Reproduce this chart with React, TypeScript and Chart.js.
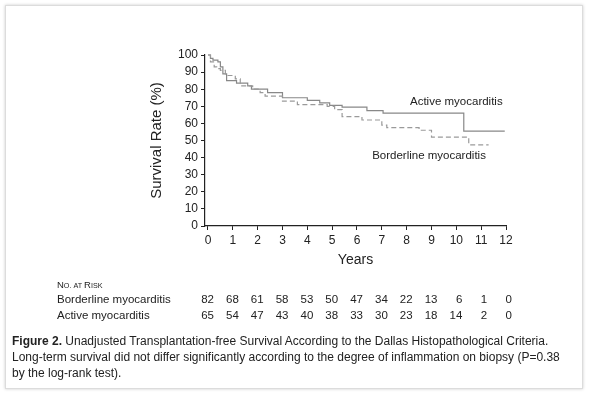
import React, { useEffect, useRef } from "react";
import { Chart, registerables } from "chart.js";

Chart.register(...registerables);

const FONT = "'Liberation Sans', Arial, Helvetica, sans-serif";

// Kaplan-Meier steps: time (years) at which survival drops to the value
const activeTimes = [0, 0.1, 0.2, 0.4, 0.5, 0.6, 0.75, 1.15, 1.6, 1.75, 2.4, 3.0, 4.0, 4.5, 4.9, 5.4, 6.4, 7.05, 10.3, 11.95];
const activeSurv = [100, 98, 97, 96, 93, 89, 85, 83.5, 82, 80, 78, 75, 73.5, 72, 70.5, 69.5, 67.5, 66, 55.5, 55.5];

const borderTimes = [0, 0.1, 0.25, 0.35, 0.5, 0.7, 1.1, 1.3, 1.8, 2.1, 2.3, 3.0, 3.6, 4.8, 5.1, 5.4, 6.2, 7.0, 7.2, 8.5, 9.0, 10.5, 11.3];
const borderSurv = [100, 96, 93, 92, 91, 88, 86, 82, 80, 78, 76, 73, 71, 70, 68, 64, 62, 59, 57.5, 56, 52, 47.5, 47.5];

const yearTicks = [0, 1, 2, 3, 4, 5, 6, 7, 8, 9, 10, 11, 12];
const borderAtRisk = [82, 68, 61, 58, 53, 50, 47, 34, 22, 13, 6, 1, 0];
const activeAtRisk = [65, 54, 47, 43, 40, 38, 33, 30, 23, 18, 14, 2, 0];

const activeName = "Active myocarditis";
const borderName = "Borderline myocarditis";
const activeLabelAt = { x: 10.0, y: 72.5 };
const borderLabelAt = { x: 8.9, y: 41 };

const toPoints = (t: number[], s: number[]) => t.map((x, i) => ({ x, y: s[i] }));

const annotationPlugin = {
  id: "kmAnnotations",
  afterDraw(chart: any) {
    const ctx = chart.ctx as CanvasRenderingContext2D;
    const xs = chart.scales.x;
    const ys = chart.scales.y;
    ctx.save();
    ctx.fillStyle = "#222";
    ctx.textBaseline = "middle";
    ctx.textAlign = "center";
    ctx.font = `11.5px ${FONT}`;
    ctx.fillText(activeName, xs.getPixelForValue(activeLabelAt.x), ys.getPixelForValue(activeLabelAt.y));
    ctx.fillText(borderName, xs.getPixelForValue(borderLabelAt.x), ys.getPixelForValue(borderLabelAt.y));

    // number at risk table
    const left = 57;
    const headY = 284;
    const row1 = 300;
    const row2 = 316;
    ctx.textAlign = "left";
    const parts: [string, number][] = [["N", 9.5], ["O. AT ", 7.2], ["R", 9.5], ["ISK", 7.2]];
    let cx = left;
    for (const [t, sz] of parts) {
      ctx.font = `${sz}px ${FONT}`;
      ctx.textBaseline = "alphabetic";
      ctx.fillText(t, cx, headY + 3.5);
      cx += ctx.measureText(t).width;
    }
    ctx.textBaseline = "middle";
    ctx.font = `11.5px ${FONT}`;
    ctx.fillText(borderName, left, row1);
    ctx.fillText(activeName, left, row2);
    ctx.textAlign = "right";
    yearTicks.forEach((yr, i) => {
      const px = xs.getPixelForValue(yr) + 6;
      ctx.fillText(String(borderAtRisk[i]), px, row1);
      ctx.fillText(String(activeAtRisk[i]), px, row2);
    });
    ctx.restore();
  },
};

export default function App() {
  const ref = useRef<HTMLCanvasElement>(null);
  useEffect(() => {
    if (!ref.current) return;
    Chart.defaults.font.family = FONT;
    const chart = new Chart(ref.current, {
      type: "line",
      data: {
        datasets: [
          {
            label: borderName,
            data: toPoints(borderTimes, borderSurv),
            borderColor: "#9a9a9a",
            borderWidth: 1.2,
            borderDash: [5, 3],
            pointRadius: 0,
            stepped: "before",
            fill: false,
            clip: false as any,
          },
          {
            label: activeName,
            data: toPoints(activeTimes, activeSurv),
            borderColor: "#888888",
            borderWidth: 1.2,
            pointRadius: 0,
            stepped: "before",
            fill: false,
            clip: false as any,
          },
        ],
      },
      options: {
        responsive: false,
        animation: false,
        layout: { padding: { left: 140, right: 83, top: 55, bottom: 123 } },
        plugins: { legend: { display: false }, tooltip: { enabled: false } },
        scales: {
          x: {
            type: "linear",
            min: -0.12,
            max: 12,
            afterBuildTicks: (s: any) => {
              s.ticks = yearTicks.map((v) => ({ value: v }));
            },
            afterFit: (s: any) => {
              s.height = 45;
            },
            grid: { drawOnChartArea: false, drawTicks: true, tickLength: 4, color: "#222", lineWidth: 1 },
            border: { display: true, color: "#222", width: 1.2 },
            ticks: { color: "#222", font: { size: 12 }, padding: 3, maxRotation: 0, autoSkip: false },
            title: { display: true, text: "Years", color: "#222", font: { size: 14 }, padding: { top: 0, bottom: 2 } },
          },
          y: {
            min: 0,
            max: 100,
            afterFit: (s: any) => {
              s.width = 65;
            },
            grid: { drawOnChartArea: false, drawTicks: true, tickLength: 4, color: "#222", lineWidth: 1 },
            border: { display: true, color: "#222", width: 1.2 },
            ticks: { stepSize: 10, color: "#222", font: { size: 12 }, padding: 3, autoSkip: false },
            title: { display: true, text: "Survival Rate (%)", color: "#222", font: { size: 15 }, padding: { top: 8, bottom: 0 } },
          },
        },
      },
      plugins: [annotationPlugin],
    });
    return () => chart.destroy();
  }, []);

  return (
    <div style={{ position: "fixed", left: 0, top: 0, width: 589, height: 394, background: "#fff" }}>
      <div
        style={{
          position: "absolute",
          left: 5,
          top: 5,
          width: 576,
          height: 382,
          border: "1px solid #dcdcdc",
          boxShadow: "0 0 3px rgba(0,0,0,0.2)",
          background: "#fff",
        }}
      />
      <canvas ref={ref} width={589} height={394} style={{ position: "absolute", left: 0, top: 0 }} />
      <div
        style={{
          position: "absolute",
          left: 12,
          top: 333,
          fontFamily: FONT,
          fontSize: 12,
          lineHeight: "16px",
          color: "#222",
          whiteSpace: "nowrap",
        }}
      >
        <b>Figure 2.</b> Unadjusted Transplantation-free Survival According to the Dallas Histopathological Criteria.
        <br />
        Long-term survival did not differ significantly according to the degree of inflammation on biopsy (P=0.38
        <br />
        by the log-rank test).
      </div>
    </div>
  );
}
